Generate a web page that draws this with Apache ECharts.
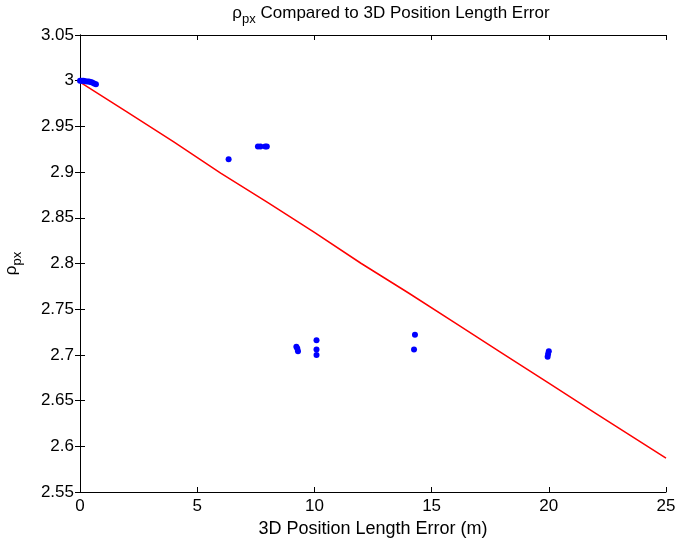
<!DOCTYPE html>
<html><head><meta charset="utf-8">
<script src="https://cdn.jsdelivr.net/npm/echarts@6/dist/echarts.min.js"></script>
<style>html,body{margin:0;padding:0;background:#fff}#c{width:675px;height:542px}</style>
</head><body><div id="c"></div>
<script>
var errX = [0, 0.08, 0.15, 0.22, 0.3, 0.38, 0.45, 0.52, 0.6, 0.68, 6.34, 7.59, 7.7, 7.9, 7.97, 9.23, 9.27, 9.3, 10.09, 10.09, 10.09, 14.29, 14.25, 20.0, 19.97, 19.95];
var rhoY = [3.0, 3.0, 3.0, 2.9995, 2.999, 2.999, 2.9985, 2.998, 2.997, 2.996, 2.914, 2.928, 2.928, 2.928, 2.928, 2.709, 2.707, 2.704, 2.716, 2.706, 2.700, 2.722, 2.706, 2.704, 2.701, 2.698];
var fitX = [0, 2, 4, 6, 8, 10, 12, 14, 16, 18, 20, 22, 25];
var fitY = [2.9985, 2.966, 2.933, 2.899, 2.867, 2.834, 2.800, 2.768, 2.735, 2.702, 2.669, 2.636, 2.587];
var xTicks = [0, 25, 5];
var yTicks = [2.55, 3.05, 0.05];

var chart = echarts.init(document.getElementById('c'));
var font = 'Liberation Sans, Arial, sans-serif';
var pts = errX.map(function(x, i){ return [x, rhoY[i]]; });
var line = fitX.map(function(x, i){ return [x, fitY[i]]; });
var tickStyle = {inside: true, length: 5, lineStyle: {color: '#000'}};
chart.setOption({
  animation: false,
  title: {
    text: '{r|ρ}{s|px}{r| Compared to 3D Position Length Error}',
    left: 386, top: -4, textAlign: 'center',
    textStyle: {fontFamily: font, fontSize: 17, fontWeight: 'normal', color: '#000',
      rich: {r: {fontFamily: font, fontSize: 17, color: '#000'}, s: {fontFamily: font, fontSize: 13, color: '#000', padding: [12, 0, 0, 0]}}}
  },
  grid: {left: 80, right: 9, top: 35, bottom: 50, containLabel: false, outerBoundsMode: 'none'},
  xAxis: [{
    type: 'value', min: xTicks[0], max: xTicks[1], interval: xTicks[2],
    name: '3D Position Length Error (m)', nameLocation: 'middle', nameGap: 22,
    nameTextStyle: {fontFamily: font, fontSize: 18, color: '#000'},
    axisLine: {lineStyle: {color: '#000'}}, axisTick: tickStyle,
    axisLabel: {fontFamily: font, fontSize: 17, color: '#000', margin: 6},
    splitLine: {show: false}
  }, {
    type: 'value', position: 'top', min: xTicks[0], max: xTicks[1], interval: xTicks[2],
    axisLine: {show: true, lineStyle: {color: '#000'}}, axisTick: tickStyle,
    axisLabel: {show: false}, splitLine: {show: false}
  }],
  yAxis: [{
    type: 'value', min: yTicks[0], max: yTicks[1], interval: yTicks[2],
    name: '{r|ρ}{s|px}', nameLocation: 'middle', nameGap: 56, nameRotate: 90,
    nameTextStyle: {fontFamily: font, fontSize: 17, color: '#000',
      rich: {r: {fontFamily: font, fontSize: 17, color: '#000'}, s: {fontFamily: font, fontSize: 13, color: '#000', padding: [12, 0, 0, 0]}}},
    axisLine: {lineStyle: {color: '#000'}}, axisTick: tickStyle,
    axisLabel: {fontFamily: font, fontSize: 17, color: '#000', margin: 6,
      formatter: function(v){ return String(parseFloat(v.toFixed(2))); }},
    splitLine: {show: false}
  }, {
    type: 'value', position: 'right', min: yTicks[0], max: yTicks[1], interval: yTicks[2],
    axisLine: {show: true, lineStyle: {color: '#000'}}, axisTick: tickStyle,
    axisLabel: {show: false}, splitLine: {show: false}
  }],
  series: [{
    type: 'line', data: line, showSymbol: false, symbol: 'none',
    lineStyle: {color: '#ff0000', width: 1.5}, z: 2
  }, {
    type: 'scatter', data: pts, symbolSize: 6,
    itemStyle: {color: '#0000ff', opacity: 1}, z: 3
  }]
});
</script></body></html>
